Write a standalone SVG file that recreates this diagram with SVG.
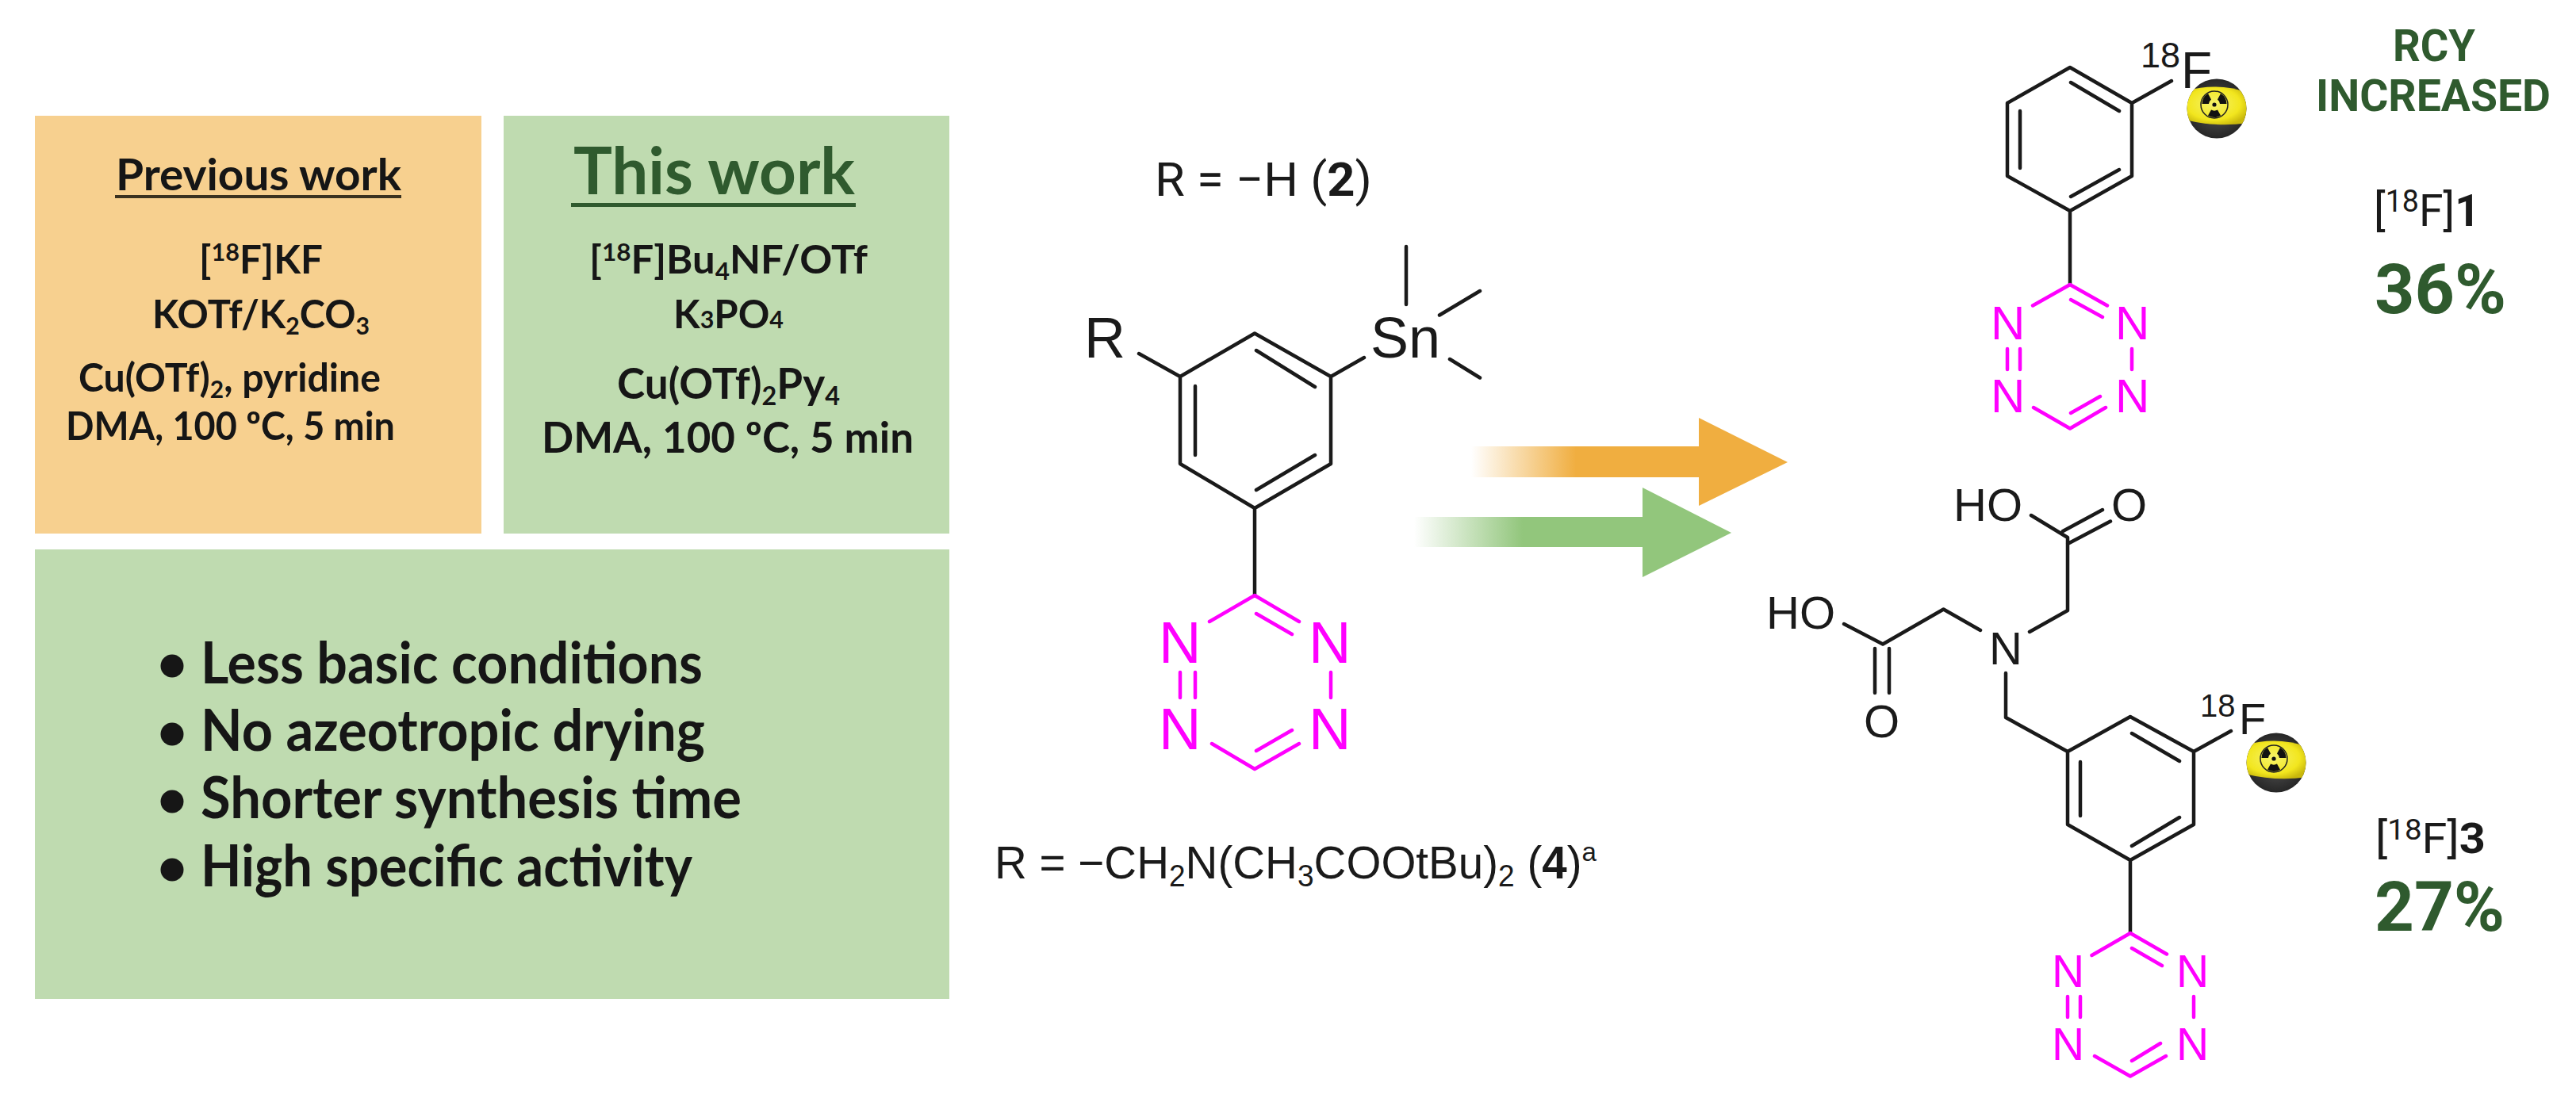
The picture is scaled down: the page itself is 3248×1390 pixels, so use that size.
<svg xmlns="http://www.w3.org/2000/svg" xmlns:xlink="http://www.w3.org/1999/xlink" width="3248" height="1390" viewBox="0 0 3248 1390">
<style>
text{font-family:"Roboto","Liberation Sans",sans-serif;fill:#1a1a1a}
.l{font-family:"Lato","Carlito","Liberation Sans",sans-serif;font-weight:700;fill:#161616}
.a{font-family:"Liberation Sans","Arial",sans-serif}
.m{text-anchor:middle}
.g{fill:#2f5a2e}
.b{fill:none;stroke:#1a1a1a;stroke-width:4.5;stroke-linecap:round;stroke-linejoin:round}
.t{fill:none;stroke:#ff00ff;stroke-width:4.5;stroke-linecap:round;stroke-linejoin:round}
.n{fill:#ff00ff;font-family:"Liberation Sans","Arial",sans-serif}
.w{font-weight:700}
</style>
<defs>
<linearGradient id="go" gradientUnits="userSpaceOnUse" x1="1855" y1="0" x2="1987" y2="0"><stop offset="0" stop-color="#f0ae40" stop-opacity="0"/><stop offset="1" stop-color="#f0ae40"/></linearGradient>
<linearGradient id="gg" gradientUnits="userSpaceOnUse" x1="1783" y1="0" x2="1920" y2="0"><stop offset="0" stop-color="#92c67c" stop-opacity="0"/><stop offset="1" stop-color="#92c67c"/></linearGradient>
<radialGradient id="dk" cx=".5" cy=".5" r=".55"><stop offset="0" stop-color="#555"/><stop offset="1" stop-color="#222"/></radialGradient>
<radialGradient id="yl" cx=".45" cy=".45" r=".6"><stop offset="0" stop-color="#f6f36a"/><stop offset=".7" stop-color="#f2e61e"/><stop offset="1" stop-color="#c9b80c"/></radialGradient>
<clipPath id="bc"><circle r="37.5"/></clipPath>
<g id="ball">
<circle r="37.5" fill="url(#dk)"/>
<path clip-path="url(#bc)" d="M-40 -22 Q0 -34 40 -20 L40 18 Q0 24 -40 14Z" fill="url(#yl)"/>
<g transform="translate(-3,-5)">
<circle r="17" fill="none" stroke="#222" stroke-width="1.5"/>
<circle r="2.6" fill="#111"/>
<path fill="#111" d="M-4 -6.5L-8 -14A16 16 0 0 0 -15.5 -1L-7 -1A8 8 0 0 1 -4 -6.5Z"/>
<path fill="#111" d="M4 -6.5L8 -14A16 16 0 0 1 15.5 -1L7 -1A8 8 0 0 0 4 -6.5Z"/>
<path fill="#111" d="M-4 6.5L-8 13.8A16 16 0 0 0 8 13.8L4 6.5A8 8 0 0 1 -4 6.5Z"/>
</g>
</g>
</defs>
<rect width="3248" height="1390" fill="#fff"/>

<g id="previous-work">
<rect x="44" y="146" width="563" height="527" fill="#f7d08f"/>
<text class="l" x="146" y="240" font-size="56" textLength="360" lengthAdjust="spacingAndGlyphs">Previous work</text>
<rect x="145" y="246" width="361" height="4" fill="#3a3220"/>
<text class="l" x="251" y="345" font-size="50" textLength="156" lengthAdjust="spacingAndGlyphs">[<tspan font-size="31" dy="-16">18</tspan><tspan dy="16">F]KF</tspan></text>
<text class="l" x="192" y="414" font-size="50" textLength="274" lengthAdjust="spacingAndGlyphs">KOTf/K<tspan font-size="31" dy="8">2</tspan><tspan dy="-8">CO</tspan><tspan font-size="31" dy="8">3</tspan></text>
<text class="l" x="99" y="494" font-size="50" textLength="381" lengthAdjust="spacingAndGlyphs">Cu(OTf)<tspan font-size="31" dy="8">2</tspan><tspan dy="-8">, pyridine</tspan></text>
<text class="l" x="83" y="555" font-size="50" textLength="415" lengthAdjust="spacingAndGlyphs">DMA, 100 ºC, 5 min</text>
</g>

<g id="this-work">
<rect x="635" y="146" width="562" height="527" fill="#bfdbb0"/>
<text class="l" x="723" y="245" font-size="82" textLength="355" lengthAdjust="spacingAndGlyphs" style="fill:#2f5a2e">This work</text>
<rect x="720" y="256" width="359" height="5" fill="#2f5a2e"/>
<text class="l" x="743" y="345" font-size="50" textLength="351" lengthAdjust="spacingAndGlyphs">[<tspan font-size="31" dy="-16">18</tspan><tspan dy="16">F]Bu</tspan><tspan font-size="31" dy="8">4</tspan><tspan dy="-8">NF/OTf</tspan></text>
<text class="l" x="849" y="414" font-size="50" textLength="139" lengthAdjust="spacingAndGlyphs">K<tspan font-size="31">3</tspan>PO<tspan font-size="31">4</tspan></text>
<text class="l" x="778" y="503" font-size="54" textLength="281" lengthAdjust="spacingAndGlyphs">Cu(OTf)<tspan font-size="33" dy="8">2</tspan><tspan dy="-8">Py</tspan><tspan font-size="33" dy="8">4</tspan></text>
<text class="l" x="683" y="571" font-size="54" textLength="469" lengthAdjust="spacingAndGlyphs">DMA, 100 ºC, 5 min</text>
</g>

<g id="advantages">
<rect x="44" y="693" width="1153" height="567" fill="#bfdbb0"/>
<g fill="#161616"><circle cx="217" cy="840" r="14.5"/><circle cx="217" cy="926" r="14.5"/><circle cx="217" cy="1011" r="14.5"/><circle cx="217" cy="1097" r="14.5"/></g>
<text class="l" x="253" y="862" font-size="73" textLength="633" lengthAdjust="spacingAndGlyphs">Less basic conditions</text>
<text class="l" x="253" y="947" font-size="73" textLength="636" lengthAdjust="spacingAndGlyphs">No azeotropic drying</text>
<text class="l" x="253" y="1032" font-size="73" textLength="682" lengthAdjust="spacingAndGlyphs">Shorter synthesis time</text>
<text class="l" x="253" y="1118" font-size="73" textLength="620" lengthAdjust="spacingAndGlyphs">High specific activity</text>
</g>

<g id="precursor">
<text x="1456" y="247" font-size="60" textLength="274" lengthAdjust="spacingAndGlyphs">R = −H (<tspan class="w">2</tspan>)</text>
<path class="b" d="M1582 420.5L1678 475V585L1582 641L1488 585V475ZM1584 442L1658 488M1507 487V574M1584 618L1658 574M1436 446L1488 475M1678 475L1720 451M1773 311V384M1815 397.5L1866 367M1828 453L1866 476.5M1582 641V751"/>
<text class="a" x="1367" y="451" font-size="72">R</text>
<text class="a" x="1728" y="451" font-size="72">Sn</text>
<path class="t" d="M1525 784L1582 751L1638 784M1584 774L1629 800M1488 848V880M1507 848V880M1678 848V880M1528 938L1582 970L1638 938M1584 947L1629 921"/>
<text class="n" x="1461" y="836" font-size="74">N</text><text class="n" x="1650" y="836" font-size="74">N</text><text class="n" x="1461" y="945" font-size="74">N</text><text class="n" x="1650" y="945" font-size="74">N</text>
<text class="a" x="1254" y="1108" font-size="58" textLength="759" lengthAdjust="spacingAndGlyphs">R = −CH<tspan font-size="38" dy="10">2</tspan><tspan dy="-10">N(CH</tspan><tspan font-size="38" dy="10">3</tspan><tspan dy="-10">COOtBu)</tspan><tspan font-size="38" dy="10">2</tspan><tspan dy="-10"> (</tspan><tspan class="w">4</tspan>)<tspan font-size="34" dy="-22">a</tspan></text>
</g>

<g id="connectors">
<path fill="url(#go)" d="M1855 563H2143V602H1855Z"/>
<path fill="#f0ae40" d="M2142 527L2254 583L2142 638Z"/>
<path fill="url(#gg)" d="M1783 652H2072V690H1783Z"/>
<path fill="#92c67c" d="M2071 615L2183 672L2071 728Z"/>
</g>

<g id="product-1">
<path class="b" d="M2610 85L2688 130V222L2610 266L2531 222V130ZM2611 104L2672 140M2547 140V212M2611 248L2672 214M2688 130L2738 102M2610 266V359"/>
<text class="a" x="2699" y="85" font-size="45">18</text>
<text class="a" x="2750" y="111" font-size="64">F</text>
<use xlink:href="#ball" href="#ball" x="2795" y="137"/>
<path class="t" d="M2563 385.5L2610 359L2657 385.5M2611 378L2651 400M2531 440V466M2547 440V466M2688 440V466M2564 514L2610 540.5L2655 514M2611 521L2648 500"/>
<text class="n" x="2510" y="428" font-size="60">N</text><text class="n" x="2667" y="428" font-size="60">N</text><text class="n" x="2510" y="520" font-size="60">N</text><text class="n" x="2667" y="520" font-size="60">N</text>
<text x="3017" y="77" font-size="55" font-weight="700" textLength="104" lengthAdjust="spacingAndGlyphs" style="fill:#2f5a2e">RCY</text>
<text x="2920" y="140" font-size="55" font-weight="700" textLength="296" lengthAdjust="spacingAndGlyphs" style="fill:#2f5a2e">INCREASED</text>
<text x="2993" y="285" font-size="56" textLength="134" lengthAdjust="spacingAndGlyphs">[<tspan font-size="38" dy="-18">18</tspan><tspan dy="18">F]</tspan><tspan class="w">1</tspan></text>
<text x="2994" y="395" font-size="88" font-weight="700" style="fill:#2f5a2e">36%</text>
</g>

<g id="product-3">
<path class="b" d="M2686 904L2766 948V1040L2686 1085L2607 1040V948ZM2688 925L2748 960M2623 961V1029M2688 1067L2748 1031M2766 948L2813 922M2607 948L2529 905V849M2559 797L2607 770V678L2561 650M2607 686L2661 657.5M2601 670L2651 643M2497 795L2450.5 768.5L2374 812.5L2325 787M2364 818V874M2382 818V874M2686 1085V1177"/>
<text class="a" x="2774" y="904" font-size="40">18</text>
<text class="a" x="2823" y="926" font-size="56">F</text>
<use xlink:href="#ball" href="#ball" x="2870" y="962"/>
<text class="a" x="2508" y="838" font-size="58">N</text>
<text class="a" x="2463" y="657" font-size="58">HO</text>
<text class="a" x="2662" y="657" font-size="58">O</text>
<text class="a" x="2227" y="793" font-size="58">HO</text>
<text class="a" x="2350" y="930" font-size="58">O</text>
<path class="t" d="M2637.5 1205L2686 1177L2732 1203.5M2688 1196L2726 1218M2607 1257V1283M2623 1257V1283M2766 1257V1283M2641 1332L2686 1357.5L2731 1332M2688 1338L2724 1316"/>
<text class="n" x="2587" y="1245" font-size="57">N</text><text class="n" x="2744" y="1245" font-size="57">N</text><text class="n" x="2587" y="1337" font-size="57">N</text><text class="n" x="2744" y="1337" font-size="57">N</text>
<text x="2995" y="1076" font-size="54" textLength="139" lengthAdjust="spacingAndGlyphs">[<tspan font-size="36" dy="-17">18</tspan><tspan dy="17">F]</tspan><tspan class="w">3</tspan></text>
<text x="2994" y="1174" font-size="87" font-weight="700" style="fill:#2f5a2e">27%</text>
</g>
</svg>
